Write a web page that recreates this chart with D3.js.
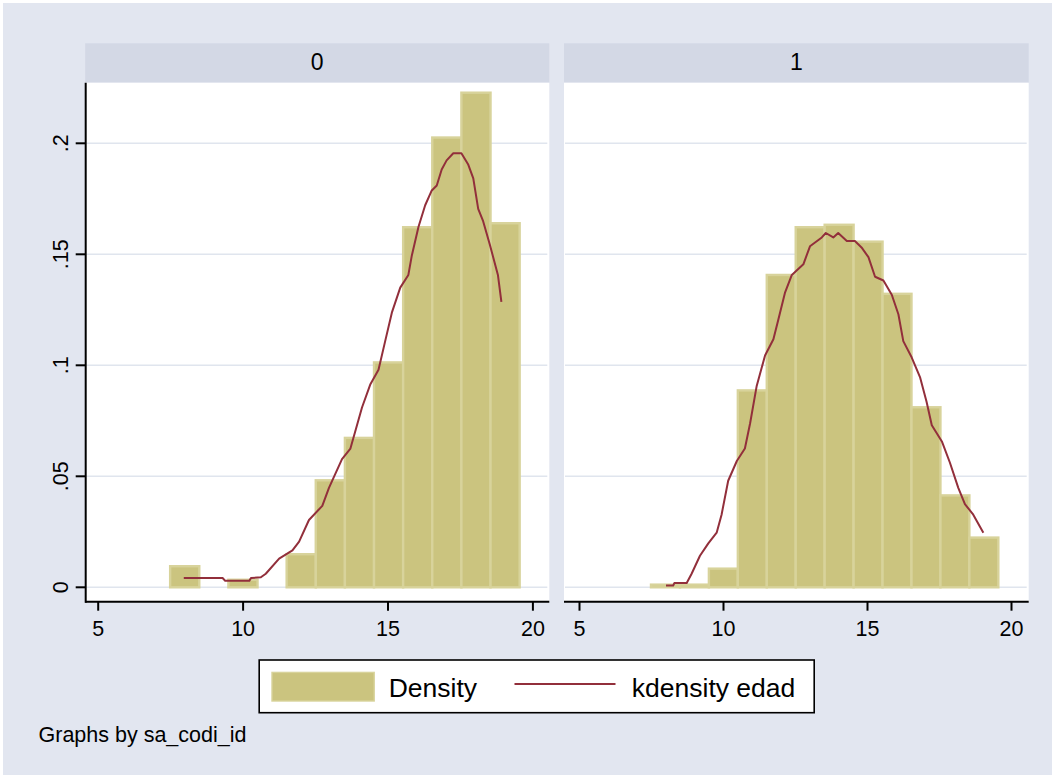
<!DOCTYPE html>
<html>
<head>
<meta charset="utf-8">
<script src="https://cdn.jsdelivr.net/npm/d3@7"></script>
<style>
  html, body { margin: 0; padding: 0; background: #ffffff; }
  svg { display: block; }
  text { font-family: "Liberation Sans", Arial, Helvetica, sans-serif; fill: #000; }
</style>
</head>
<body>
<svg id="chart" width="1052" height="775"></svg>
<script>
// ---------------- data ----------------
const panels = ["0", "1"];
const binEdges = [7.5, 8.505, 9.51, 10.515, 11.52, 12.525, 13.53, 14.535, 15.54, 16.545, 17.55, 18.555, 19.56];
const density0 = [0.0095, 0, 0.0034, 0, 0.0149, 0.0482, 0.0673, 0.1013, 0.1622, 0.2026, 0.2228, 0.1640];
const density1 = [0.0012, 0.0012, 0.0084, 0.0887, 0.1407, 0.1622, 0.1633, 0.1557, 0.1322, 0.0811, 0.0414, 0.0224];

const kd0x = [7.97, 9.31, 9.40, 10.23, 10.29, 10.63, 10.80, 11.26, 11.72, 11.95, 12.29, 12.75, 12.98, 13.43, 13.72,
              14.12, 14.41, 14.69, 14.92, 15.15, 15.44, 15.72, 15.84, 16.07, 16.30, 16.52, 16.70, 16.87, 17.04, 17.27,
              17.55, 17.78, 17.96, 18.13, 18.30, 18.53, 18.81, 18.93];
const kd0y = [0.0042, 0.0042, 0.0029, 0.0029, 0.0042, 0.0045, 0.0061, 0.0129, 0.0166, 0.0206, 0.0303, 0.0367, 0.0448, 0.0577, 0.0625,
              0.0810, 0.0915, 0.0980, 0.1109, 0.1237, 0.1350, 0.1407, 0.1495, 0.1624, 0.1721, 0.1786, 0.1810, 0.1882, 0.1923, 0.1955,
              0.1955, 0.1906, 0.1842, 0.1705, 0.1649, 0.1544, 0.1407, 0.1286];

const kd1x = [8.02, 8.27, 8.31, 8.74, 8.91, 9.20, 9.49, 9.78, 9.95, 10.18, 10.48, 10.76, 10.94, 11.17, 11.46,
              11.75, 11.92, 12.15, 12.39, 12.79, 13.02, 13.43, 13.57, 13.83, 14.00, 14.30, 14.58, 14.81, 15.05, 15.28,
              15.57, 15.86, 16.09, 16.26, 16.55, 16.84, 17.07, 17.25, 17.60, 17.88, 18.17, 18.40, 18.69, 19.04];
const kd1y = [0.0008, 0.0008, 0.0019, 0.0019, 0.0061, 0.0142, 0.0198, 0.0246, 0.0327, 0.0480, 0.0569, 0.0625, 0.0738, 0.0907, 0.1044,
              0.1117, 0.1205, 0.1326, 0.1407, 0.1455, 0.1536, 0.1576, 0.1596, 0.1576, 0.1596, 0.1560, 0.1560, 0.1531, 0.1487, 0.1399,
              0.1382, 0.1318, 0.1230, 0.1109, 0.1036, 0.0947, 0.0835, 0.0730, 0.0657, 0.0561, 0.0448, 0.0375, 0.0327, 0.0246];

const xTicks = [5, 10, 15, 20];
const yTicks = [0, 0.05, 0.1, 0.15, 0.2];
const yTickLabels = ["0", ".05", ".1", ".15", ".2"];
const legendLabels = ["Density", "kdensity edad"];
const noteText = "Graphs by sa_codi_id";

// ---------------- style ----------------
const BG = "#e2e6f0", STRIP = "#d3d8e5", GRID = "#e0e5ee";
const BAR = "#cbc47f", BAR_EDGE = "#d8d39b", LINE = "#922f3b";

const svg = d3.select("#chart");
svg.append("rect").attr("x", 3).attr("y", 3).attr("width", 1049).attr("height", 772).attr("fill", BG);

const y = d3.scaleLinear().domain([0, 0.2]).range([587.3, 143.3]);

const panelDefs = [
  { label: panels[0], left: 85.2, right: 549.3, xr: [97.7, 532.4], dens: density0, kx: kd0x, ky: kd0y, yaxis: true },
  { label: panels[1], left: 564, right: 1028.7, xr: [579, 1011], dens: density1, kx: kd1x, ky: kd1y, yaxis: false }
];
const stripTop = 43.3, stripBot = 82.7, axisY = 601.7;

panelDefs.forEach(p => {
  const x = d3.scaleLinear().domain([5, 20]).range(p.xr);
  const g = svg.append("g");

  // strip
  g.append("rect").attr("x", p.left).attr("y", stripTop)
    .attr("width", p.right - p.left).attr("height", stripBot - stripTop).attr("fill", STRIP);
  g.append("text").attr("x", (p.left + p.right) / 2).attr("y", 70)
    .attr("text-anchor", "middle").attr("font-size", 23).text(p.label);

  // plot region
  g.append("rect").attr("x", p.left).attr("y", stripBot)
    .attr("width", p.right - p.left).attr("height", axisY - stripBot).attr("fill", "#ffffff");

  // gridlines
  g.selectAll("line.grid").data(yTicks).enter().append("line")
    .attr("x1", p.left + 1).attr("x2", p.right - 2)
    .attr("y1", d => y(d)).attr("y2", d => y(d))
    .attr("stroke", GRID).attr("stroke-width", 1.4);

  // bars
  const bins = p.dens.map((v, i) => ({ x0: binEdges[i], x1: binEdges[i + 1], v: v })).filter(b => b.v > 0);
  g.selectAll("rect.bar").data(bins).enter().append("rect")
    .attr("x", d => x(d.x0)).attr("width", d => x(d.x1) - x(d.x0))
    .attr("y", d => y(d.v)).attr("height", d => y(0) - y(d.v))
    .attr("fill", BAR).attr("stroke", BAR_EDGE).attr("stroke-width", 2.4);

  // kdensity line
  const pts = p.kx.map((xx, i) => [xx, p.ky[i]]);
  g.append("path").datum(pts)
    .attr("d", d3.line().x(d => x(d[0])).y(d => y(d[1])))
    .attr("fill", "none").attr("stroke", LINE).attr("stroke-width", 2).attr("stroke-linejoin", "round");

  // x axis
  g.append("line").attr("x1", p.left).attr("x2", p.right).attr("y1", axisY).attr("y2", axisY)
    .attr("stroke", "#000").attr("stroke-width", 2);
  const xa = g.append("g").attr("transform", `translate(0,${axisY})`)
    .call(d3.axisBottom(x).tickValues(xTicks).tickSize(9).tickSizeOuter(0).tickPadding(10).tickFormat(d3.format("d")));
  xa.select(".domain").remove();
  xa.selectAll(".tick line").attr("stroke", "#000").attr("stroke-width", 2);
  xa.selectAll(".tick text").attr("font-size", 21.5).attr("font-family", "Liberation Sans, Arial, sans-serif").attr("fill", "#000");

  // y axis (left panel only)
  if (p.yaxis) {
    g.append("line").attr("x1", p.left + 0.5).attr("x2", p.left + 0.5).attr("y1", stripBot).attr("y2", axisY + 1)
      .attr("stroke", "#000").attr("stroke-width", 2);
    g.selectAll("line.ytick").data(yTicks).enter().append("line")
      .attr("x1", p.left - 9.5).attr("x2", p.left + 0.5)
      .attr("y1", d => y(d)).attr("y2", d => y(d))
      .attr("stroke", "#000").attr("stroke-width", 2);
    g.selectAll("text.ylab").data(yTicks).enter().append("text")
      .attr("transform", d => `translate(67.5,${y(d)}) rotate(-90)`)
      .attr("text-anchor", "middle").attr("font-size", 21.5)
      .text((d, i) => yTickLabels[i]);
  }
});

// legend
const lg = svg.append("g");
lg.append("rect").attr("x", 259.2).attr("y", 660).attr("width", 555).attr("height", 52.7)
  .attr("fill", "#ffffff").attr("stroke", "#000").attr("stroke-width", 1.6);
lg.append("rect").attr("x", 272).attr("y", 672.4).attr("width", 102.2).attr("height", 28.6)
  .attr("fill", BAR).attr("stroke", BAR_EDGE).attr("stroke-width", 1.4);
lg.append("text").attr("x", 388.7).attr("y", 696.5).attr("font-size", 26.5).text(legendLabels[0]);
lg.append("line").attr("x1", 514.5).attr("x2", 615.5).attr("y1", 684).attr("y2", 684)
  .attr("stroke", LINE).attr("stroke-width", 2);
lg.append("text").attr("x", 631.8).attr("y", 696.5).attr("font-size", 26.5).text(legendLabels[1]);

// note
svg.append("text").attr("x", 38.5).attr("y", 741.5).attr("font-size", 21.5).text(noteText);
</script>
</body>
</html>
